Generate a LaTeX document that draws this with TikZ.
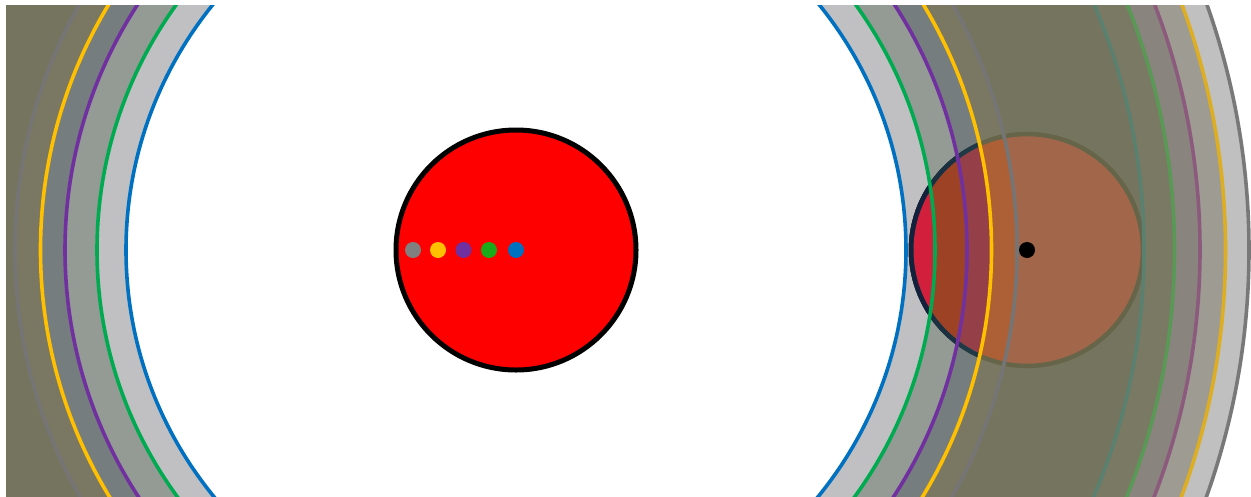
\documentclass[tikz,border=0pt]{standalone}
\usepackage{xcolor}
\definecolor{fA}{HTML}{C0C0C0}
\definecolor{fB}{HTML}{9E9B93}
\definecolor{fC}{HTML}{8A847F}
\definecolor{fD}{HTML}{7A7964}
\definecolor{fM}{HTML}{75745E}
\definecolor{fE}{HTML}{7A7862}
\definecolor{fF}{HTML}{767D7E}
\definecolor{fG}{HTML}{939B94}
\definecolor{fH}{HTML}{C0C0C2}
\definecolor{pA}{HTML}{A2674A}
\definecolor{pB}{HTML}{AD5F36}
\definecolor{pC}{HTML}{953F48}
\definecolor{pD}{HTML}{9D4225}
\definecolor{pE}{HTML}{D21F3B}
\definecolor{oA}{HTML}{66654A}
\definecolor{oB}{HTML}{1F3946}
\definecolor{oC}{HTML}{1B3040}
\definecolor{oD}{HTML}{14213C}
\definecolor{cblue}{HTML}{0070C0}
\definecolor{cgreen}{HTML}{00AA50}
\definecolor{cpurple}{HTML}{7030A0}
\definecolor{cyellow}{HTML}{FFC000}
\definecolor{cgray}{HTML}{757575}
\definecolor{mblue}{HTML}{5A8070}
\definecolor{mgreen}{HTML}{5A9955}
\definecolor{mpurple}{HTML}{8C5A7C}
\definecolor{myellow}{HTML}{DDAE22}
\definecolor{mgray}{HTML}{787878}
\definecolor{dgray}{HTML}{808080}
\definecolor{dgreen}{HTML}{19AA19}
\tikzset{
  ringline/.style={line width=3.6pt},
  dotmark/.style={fill=#1, draw=none},
}
\begin{document}
\begin{tikzpicture}[x=1pt,y=-1pt]
\useasboundingbox (0,0) rectangle (1251,496);
\fill[white] (0,0) rectangle (1251,496);
\coordinate (C) at (516,250);
\coordinate (P) at (1027,250);
\begin{scope}
\clip (6,5) rectangle (1251,496);
% concentric bands
\fill[fA] (C) circle[radius=733pt];
\fill[fB] (C) circle[radius=709.5pt];
\fill[fC] (C) circle[radius=684pt];
\fill[fD] (C) circle[radius=658.5pt];
\fill[fM] (C) circle[radius=628pt];
\fill[fE] (C) circle[radius=501pt];
\fill[fF] (C) circle[radius=475.5pt];
\fill[fG] (C) circle[radius=451pt];
\fill[fH] (C) circle[radius=419pt];
\fill[white] (C) circle[radius=390pt];
% planet interior
\begin{scope}
\clip (P) circle[radius=116pt];
\fill[pA] (C) circle[radius=640pt];
\fill[pB] (C) circle[radius=501pt];
\fill[pC] (C) circle[radius=475.5pt];
\fill[pD] (C) circle[radius=451pt];
\fill[pE] (C) circle[radius=419pt];
\end{scope}
% planet outline
\draw[oA, line width=4.5pt] (P) circle[radius=116pt];
\begin{scope}
\clip (C) circle[radius=475.5pt];
\draw[oB, line width=4.5pt] (P) circle[radius=116pt];
\end{scope}
\begin{scope}
\clip (C) circle[radius=451pt];
\draw[oC, line width=4.5pt] (P) circle[radius=116pt];
\end{scope}
\begin{scope}
\clip (C) circle[radius=419pt];
\draw[oD, line width=4.5pt] (P) circle[radius=116pt];
\end{scope}
% outer (muted) lines
\draw[ringline, mgray] (C) circle[radius=733pt];
\draw[ringline, myellow] (C) circle[radius=709.5pt];
\draw[ringline, mpurple] (C) circle[radius=684pt];
\draw[ringline, mgreen] (C) circle[radius=658.5pt];
\draw[ringline, mblue] (C) circle[radius=628pt];
% inner lines
\draw[ringline, cgray] (C) circle[radius=501pt];
\draw[ringline, cyellow] (C) circle[radius=475.5pt];
\draw[ringline, cpurple] (C) circle[radius=451pt];
\draw[ringline, cgreen] (C) circle[radius=419pt];
\draw[ringline, cblue] (C) circle[radius=390pt];
\end{scope}
% star
\draw[line width=5pt, black, fill=red] (C) circle[radius=120pt];
% dots
\fill[dotmark=dgray] (413,250) circle[radius=8pt];
\fill[dotmark=cyellow] (438,250) circle[radius=8pt];
\fill[dotmark=cpurple] (463.5,250) circle[radius=8pt];
\fill[dotmark=dgreen] (489,250) circle[radius=8pt];
\fill[dotmark=cblue] (C) circle[radius=8pt];
\fill[dotmark=black] (P) circle[radius=8pt];
\end{tikzpicture}
\end{document}
